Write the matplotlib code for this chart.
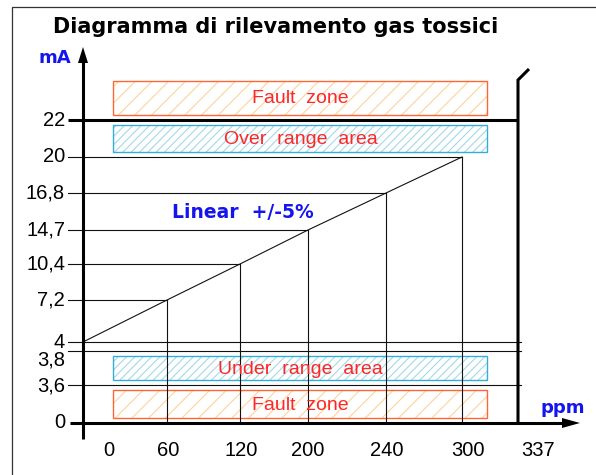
import numpy as np
import matplotlib.pyplot as plt
from matplotlib.patches import Rectangle, Polygon
from matplotlib.lines import Line2D

W, H = 596, 475

# values
ppm_ticks = [0, 60, 120, 200, 240, 300, 337]
ppm_labels = ["0", "60", "120", "200", "240", "300", "337"]
ma_ticks = [0, 3.6, 3.8, 4, 7.2, 10.4, 14.7, 16.8, 20, 22]
ma_labels = ["0", "3,6", "3,8", "4", "7,2", "10,4", "14,7", "16,8", "20", "22"]
ppm_pts = [0, 60, 120, 200, 240, 300]
ma_pts = [4, 7.2, 10.4, 14.7, 16.8, 20]
zone_names = ["Fault  zone", "Over  range  area", "Under  range  area", "Fault  zone"]
zone_lo = [22, 20, 3.6, 0]
zone_hi = [24.4, 22, 3.8, 3.6]
zone_kind = ["fault", "range", "range", "fault"]

# the diagram is schematic, not to scale: pixel column / row of each tick
x_pix = [83, 167, 240, 308, 386, 462, 518]
y_pix = [423, 385, 351, 342, 300, 264, 230, 193, 157, 120]
x_lab_shift = [26, 1, 1, 0, 1, 6, 20]
y_lab_shift = [0, 1, 9, 0, 0, 0, 0, 0, 0, 0]

BLUE = "#1414f0"
RED = "#ff2626"
styles = {"fault": ("#ff6633", "#ffd39c"), "range": ("#33aed6", "#a3d9eb")}


def piecewise(src, dst):
    src = np.asarray(src, float)
    dst = np.asarray(dst, float)
    k0 = (dst[1] - dst[0]) / (src[1] - src[0])
    k1 = (dst[-1] - dst[-2]) / (src[-1] - src[-2])

    def f(v):
        v = np.asarray(v, float)
        out = np.interp(v, src, dst)
        out = np.where(v < src[0], dst[0] + (v - src[0]) * k0, out)
        out = np.where(v > src[-1], dst[-1] + (v - src[-1]) * k1, out)
        return out
    return f


y_up = H - np.array(y_pix, float)
fx, ix = piecewise(ppm_ticks, x_pix), piecewise(x_pix, ppm_ticks)
fy, iy = piecewise(ma_ticks, y_up), piecewise(y_up, ma_ticks)


def px_x(v):
    return float(fx(v))


def px_y(v):
    return H - float(fy(v))


def dx(p):
    return float(ix(p))


def dy(p):
    return float(iy(H - p))


plt.rcParams["hatch.linewidth"] = 0.8
fig = plt.figure(figsize=(W / 100, H / 100), dpi=100)
ax = fig.add_axes([0, 0, 1, 1])
ax.set_xscale("function", functions=(fx, ix))
ax.set_yscale("function", functions=(fy, iy))
ax.set_xlim(dx(0), dx(W))
ax.set_ylim(dy(H), dy(0))
ax.axis("off")

# outer frame
fig.add_artist(Line2D([12 / W, 12 / W, 1], [0, 1 - 7 / H, 1 - 7 / H],
                      transform=fig.transFigure, color="#333333", lw=0.9))

thin = dict(color="#111111", lw=0.8)
thick = dict(color="black", lw=2.2, solid_capstyle="butt")
x_end = ppm_ticks[-1]
left = dx(px_x(0) - 15)

# zones
for name, lo, hi, kind in zip(zone_names, zone_lo, zone_hi, zone_kind):
    edge, hatch = styles[kind]
    x0, x1 = dx(px_x(0) + 30), dx(px_x(x_end) - 31)
    y1, y0 = dy(px_y(hi) + 5), dy(px_y(lo) - 5)
    ax.add_patch(Rectangle((x0, y0), x1 - x0, y1 - y0, fill=False, hatch="//" if kind == "fault" else "////",
                           edgecolor=hatch, lw=0))
    ax.add_patch(Rectangle((x0, y0), x1 - x0, y1 - y0, fill=False, edgecolor=edge, lw=1.0))
    ax.text(dx((px_x(0) + px_x(x_end)) / 2), dy((px_y(lo) + px_y(hi)) / 2 + 1), name,
            color=RED, fontsize=14, family="Liberation Sans", ha="center", va="center")

# grid lines
for v in ma_ticks:
    if v in ma_pts[1:]:
        ax.plot([left, ppm_pts[ma_pts.index(v)]], [v, v], **thin)
    elif v in (3.6, 3.8, 4):
        ax.plot([left, dx(px_x(x_end) + 3)], [v, v], **thin)
for p, v in zip(ppm_pts[1:], ma_pts[1:]):
    ax.plot([p, p], [0, v], **thin)
ax.plot(ppm_pts, ma_pts, **thin)

# thick lines and axes
ax.plot([left, x_end], [22, 22], **thick)
ax.plot([x_end, x_end, dx(px_x(x_end) + 11)], [0, dy(80), dy(69)], color="black", lw=2.2,
        solid_joinstyle="miter", solid_capstyle="butt")
ax.plot([dx(70), dx(566)], [0, 0], **thick)
ax.plot([0, 0], [dy(439), dy(60)], **thick)
xa, ya = px_x(0), px_y(0)
ax.add_patch(Polygon([(dx(580), 0), (dx(562), dy(ya - 5)), (dx(562), dy(ya + 5))], color="black", lw=0))
ax.add_patch(Polygon([(0, dy(47)), (dx(xa - 5), dy(63)), (dx(xa + 5), dy(63))], color="black", lw=0))

# tick labels
for v, lab, s in zip(ma_ticks, ma_labels, y_lab_shift):
    ax.text(dx(65), dy(px_y(v) + s), lab, fontsize=14.5, family="Liberation Sans",
            ha="right", va="center")
for p, lab, s in zip(ppm_ticks, ppm_labels, x_lab_shift):
    ax.text(dx(px_x(p) + s), dy(451), lab, fontsize=14.5, family="Liberation Sans",
            ha="center", va="center")

ax.text(dx(172), dy(212), "Linear  +/-5%", color=BLUE, fontsize=13.5, fontweight="bold",
        ha="left", va="center")
fig.text(53 / W, 1 - 27 / H, "Diagramma di rilevamento gas tossici", fontsize=15,
         fontweight="bold", ha="left", va="center")
fig.text(55 / W, 1 - 58 / H, "mA", color=BLUE, fontsize=13, fontweight="bold",
         ha="center", va="center")
fig.text(563 / W, 1 - 408 / H, "ppm", color=BLUE, fontsize=13, fontweight="bold",
         ha="center", va="center")

fig.savefig("out.png", dpi=100)
